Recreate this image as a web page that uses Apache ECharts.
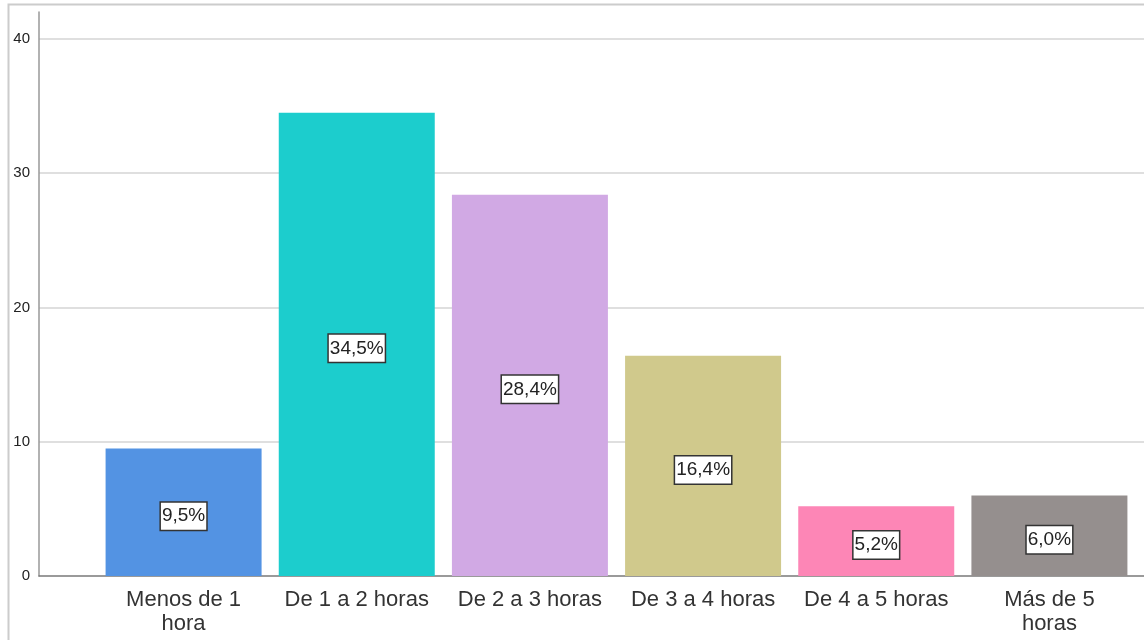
<!DOCTYPE html>
<html>
<head>
<meta charset="utf-8">
<script src="https://cdn.jsdelivr.net/npm/echarts@6/dist/echarts.min.js"></script>
<style>
  html, body { margin: 0; padding: 0; background: #fff; }
  #chart { width: 1144px; height: 640px; }
</style>
</head>
<body>
<div id="chart"></div>
<script>
const categories = ['Menos de 1\nhora', 'De 1 a 2 horas', 'De 2 a 3 horas', 'De 3 a 4 horas', 'De 4 a 5 horas', 'Más de 5\nhoras'];
const percents = [9.5, 34.5, 28.4, 16.4, 5.2, 6.0];
const barColors = ['#5393e3', '#1ccdcd', '#d1a9e4', '#d0c98c', '#fd86b6', '#958f8e'];
const yTicks = [0, 10, 20, 30, 40];

const chart = echarts.init(document.getElementById('chart'));

chart.setOption({
    animation: false,
    textStyle: { fontFamily: 'Liberation Sans, Arial, sans-serif' },
    graphic: [{
        type: 'rect',
        shape: { x: 8.5, y: 4.5, width: 1200, height: 700 },
        style: { fill: 'none', stroke: '#cccccc', lineWidth: 2 },
        silent: true
    }],
    grid: [
        { left: 39, right: 0, top: 12, bottom: 64 },
        { left: 97, right: 8, top: 12, bottom: 64 }
    ],
    xAxis: [{
        gridIndex: 0,
        type: 'value',
        min: 0,
        max: 1,
        axisLine: { show: true, onZero: false, lineStyle: { color: '#7a7a7a', width: 1.5 } },
        axisTick: { show: false },
        axisLabel: { show: false },
        splitLine: { show: false }
    }, {
        gridIndex: 1,
        type: 'category',
        data: categories,
        axisLine: { show: false },
        axisTick: { show: false },
        axisLabel: {
            color: '#333333',
            fontSize: 22,
            lineHeight: 24,
            margin: 12,
            interval: 0
        }
    }],
    yAxis: [{
        gridIndex: 0,
        type: 'value',
        min: 0,
        max: 42,
        interval: 10,
        axisLine: { show: true, lineStyle: { color: '#999999', width: 1.5 } },
        axisTick: { show: false },
        axisLabel: {
            color: '#222222',
            fontSize: 15,
            margin: 9,
            customValues: yTicks
        },
        splitLine: {
            show: true,
            showMinLine: false,
            showMaxLine: false,
            lineStyle: { color: '#d4d4d4', width: 1.5 }
        }
    }, {
        gridIndex: 1,
        type: 'value',
        min: 0,
        max: 42,
        show: false
    }],
    series: [{
        type: 'bar',
        xAxisIndex: 1,
        yAxisIndex: 1,
        barWidth: 156,
        data: percents.map((v, i) => ({ value: v, itemStyle: { color: barColors[i] } })),
        label: {
            show: true,
            position: 'inside',
            offset: [0, 4],
            formatter: p => p.value.toFixed(1).replace('.', ',') + '%',
            color: '#222222',
            fontSize: 19,
            backgroundColor: '#ffffff',
            borderColor: '#333333',
            borderWidth: 1.5,
            padding: [5, 1, 3, 1]
        }
    }]
});
</script>
</body>
</html>
